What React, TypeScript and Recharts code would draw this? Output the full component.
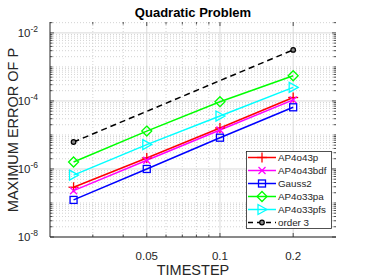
import React from "react";
import { LineChart, Line, XAxis, YAxis } from "recharts";

// time steps used in the convergence study
const timestep = [0.025, 0.05, 0.1, 0.2];

// maximum error of P for each method
const ap4o43p = [2.9e-7, 2.1e-6, 1.6e-5, 1.26e-4];
const ap4o43bdf = [2.3e-7, 1.8e-6, 1.4e-5, 1.07e-4];
const gauss2 = [1.23e-7, 1.0e-6, 8.3e-6, 6.5e-5];
const ap4o33pa = [1.6e-6, 1.3e-5, 9.5e-5, 5.5e-4];
const ap4o33pfs = [6.6e-7, 5.2e-6, 3.6e-5, 2.5e-4];
// reference slope, only drawn at the two end points
const order3 = [6.2e-6, null, null, 3.16e-3];

const xTicks = [0.05, 0.1, 0.2];
const yTicks = [1e-8, 1e-6, 1e-4, 1e-2];
const xMinor = [0.03, 0.04, 0.06, 0.07, 0.08, 0.09];
const yMinor: number[] = [];
for (let e = -8; e <= -3; e++) {
  for (let m = 1; m <= 9; m++) {
    const v = m * Math.pow(10, e);
    if (m === 1 && e % 2 === 0) continue; // major decade
    yMinor.push(v);
  }
}
yMinor.push(2e-2);

const X_DOMAIN = [0.02, 0.3];
const Y_DOMAIN = [1e-8, 0.0209];

// plot box (matches the chart margins / axis sizes below)
const PLOT = { left: 50, top: 22, right: 336, bottom: 237 };

const FONT = "'Liberation Sans', Arial, Helvetica, sans-serif";
const AXIS = "#262626";

type Mark = "plus" | "cross" | "square" | "diamond" | "tri" | "circle";

const series: {
  key: string;
  name: string;
  color: string;
  mark: Mark;
  dashed?: boolean;
  values: (number | null)[];
}[] = [
  { key: "ap4o43p", name: "AP4o43p", color: "#ff0000", mark: "plus", values: ap4o43p },
  { key: "ap4o43bdf", name: "AP4o43bdf", color: "#ff00ff", mark: "cross", values: ap4o43bdf },
  { key: "gauss2", name: "Gauss2", color: "#0000ff", mark: "square", values: gauss2 },
  { key: "ap4o33pa", name: "AP4o33pa", color: "#00ff00", mark: "diamond", values: ap4o33pa },
  { key: "ap4o33pfs", name: "AP4o33pfs", color: "#00ffff", mark: "tri", values: ap4o33pfs },
  { key: "order3", name: "order 3", color: "#000000", mark: "circle", dashed: true, values: order3 },
];

const chartData = timestep.map((t, i) => {
  const row: any = { t };
  series.forEach((s) => {
    row[s.key] = s.values[i];
  });
  return row;
});

// log position helpers for the background grid
const lx = (v: number) =>
  PLOT.left +
  ((Math.log10(v) - Math.log10(X_DOMAIN[0])) / (Math.log10(X_DOMAIN[1]) - Math.log10(X_DOMAIN[0]))) *
    (PLOT.right - PLOT.left);
const ly = (v: number) =>
  PLOT.bottom -
  ((Math.log10(v) - Math.log10(Y_DOMAIN[0])) / (Math.log10(Y_DOMAIN[1]) - Math.log10(Y_DOMAIN[0]))) *
    (PLOT.bottom - PLOT.top);

function Marker({ kind, cx, cy, color }: { kind: Mark; cx: number; cy: number; color: string }) {
  const sw = 1.3;
  switch (kind) {
    case "plus":
      return (
        <g stroke={color} strokeWidth={sw}>
          <line x1={cx - 5} y1={cy} x2={cx + 5} y2={cy} />
          <line x1={cx} y1={cy - 5} x2={cx} y2={cy + 5} />
        </g>
      );
    case "cross":
      return (
        <g stroke={color} strokeWidth={sw}>
          <line x1={cx - 3.5} y1={cy - 3.5} x2={cx + 3.5} y2={cy + 3.5} />
          <line x1={cx - 3.5} y1={cy + 3.5} x2={cx + 3.5} y2={cy - 3.5} />
        </g>
      );
    case "square":
      return <rect x={cx - 3.5} y={cy - 3.5} width={7} height={7} fill="none" stroke={color} strokeWidth={sw} />;
    case "diamond":
      return (
        <polygon
          points={`${cx},${cy - 5} ${cx + 5},${cy} ${cx},${cy + 5} ${cx - 5},${cy}`}
          fill="none"
          stroke={color}
          strokeWidth={sw}
        />
      );
    case "tri":
      return (
        <polygon
          points={`${cx + 5},${cy} ${cx - 4},${cy - 5} ${cx - 4},${cy + 5}`}
          fill="none"
          stroke={color}
          strokeWidth={sw}
        />
      );
    default:
      return <circle cx={cx} cy={cy} r={2.3} fill="#888" stroke={color} strokeWidth={1.2} />;
  }
}

const makeDot = (kind: Mark, color: string) => (props: any) => {
  const { cx, cy, value, index } = props;
  if (value == null || cx == null || cy == null) return <g key={`e-${index}`} />;
  return (
    <g key={`d-${index}`}>
      <Marker kind={kind} cx={cx} cy={cy} color={color} />
    </g>
  );
};

const YTick = (props: any) => {
  const { x, y, payload } = props;
  const exp = Math.round(Math.log10(payload.value));
  return (
    <text x={x - 4} y={y + 4} textAnchor="end" fill={AXIS} fontSize={11.5} fontFamily={FONT}>
      <tspan>10</tspan>
      <tspan dy={-5} fontSize={8.5}>
        {exp}
      </tspan>
    </text>
  );
};

const XTick = (props: any) => {
  const { x, y, payload } = props;
  return (
    <text x={x} y={y + 15} textAnchor="middle" fill={AXIS} fontSize={11.5} fontFamily={FONT}>
      {payload.value}
    </text>
  );
};

const LegendBox = () => {
  const rowH = 13;
  return (
    <svg width={86} height={78} style={{ display: "block" }}>
      <rect x={0.5} y={0.5} width={85} height={77} fill="#fff" stroke={AXIS} strokeWidth={0.8} />
      {series.map((s, i) => {
        const cy = 6.5 + rowH * i;
        return (
          <g key={s.key}>
            <line
              x1={2}
              y1={cy}
              x2={30}
              y2={cy}
              stroke={s.color}
              strokeWidth={1.5}
              strokeDasharray={s.dashed ? "5 4" : undefined}
            />
            <Marker kind={s.mark} cx={16} cy={cy} color={s.color} />
            <text x={32} y={cy + 3.5} fontSize={9.8} fontFamily={FONT} fill={AXIS}>
              {s.name}
            </text>
          </g>
        );
      })}
    </svg>
  );
};

const Grid = () => (
  <svg width={371} height={278} style={{ position: "absolute", left: 0, top: 0 }}>
    {xMinor.map((v) => (
      <line key={`xm${v}`} x1={lx(v)} x2={lx(v)} y1={PLOT.top} y2={PLOT.bottom} stroke="#c8c8c8" strokeWidth={0.8} strokeDasharray="1 2" />
    ))}
    {yMinor.map((v) => (
      <line key={`ym${v}`} x1={PLOT.left} x2={PLOT.right} y1={ly(v)} y2={ly(v)} stroke="#c8c8c8" strokeWidth={0.8} strokeDasharray="1 2" />
    ))}
    {xTicks.map((v) => (
      <line key={`xM${v}`} x1={lx(v)} x2={lx(v)} y1={PLOT.top} y2={PLOT.bottom} stroke="#dadada" />
    ))}
    {yTicks.map((v) => (
      <line key={`yM${v}`} x1={PLOT.left} x2={PLOT.right} y1={ly(v)} y2={ly(v)} stroke="#dadada" />
    ))}
  </svg>
);

const TickMarks = () => (
  <svg width={371} height={278} style={{ position: "absolute", left: 0, top: 0, pointerEvents: "none" }}>
    <g stroke={AXIS} strokeWidth={0.8}>
      {[...xMinor, ...xTicks].map((v) => {
        const len = xTicks.includes(v) ? 4 : 2.5;
        return (
          <g key={`xt${v}`}>
            <line x1={lx(v)} x2={lx(v)} y1={PLOT.bottom} y2={PLOT.bottom - len} />
            <line x1={lx(v)} x2={lx(v)} y1={PLOT.top} y2={PLOT.top + len} />
          </g>
        );
      })}
      {[...yMinor, ...yTicks].map((v) => {
        const len = yTicks.includes(v) ? 4 : 2.5;
        return (
          <g key={`yt${v}`}>
            <line x1={PLOT.left} x2={PLOT.left + len} y1={ly(v)} y2={ly(v)} />
            <line x1={PLOT.right} x2={PLOT.right - len} y1={ly(v)} y2={ly(v)} />
          </g>
        );
      })}
    </g>
  </svg>
);

export default function App() {
  return (
    <div style={{ position: "absolute", left: 0, top: 0, width: 371, height: 278, background: "#fff" }}>
      <Grid />
      <div style={{ position: "absolute", left: 0, top: 0 }}>
        <LineChart width={371} height={278} data={chartData} margin={{ top: 22, right: 35, bottom: 0, left: 0 }}>
          <XAxis
            dataKey="t"
            type="number"
            scale="log"
            domain={X_DOMAIN}
            ticks={xTicks}
            interval={0}
            allowDataOverflow
            height={41}
            stroke={AXIS}
            tickLine={false}
            tick={<XTick />}
          />
          <XAxis
            xAxisId="top"
            orientation="top"
            dataKey="t"
            type="number"
            scale="log"
            domain={X_DOMAIN}
            ticks={xTicks}
            allowDataOverflow
            height={0}
            stroke={AXIS}
            tickLine={false}
            tick={false}
          />
          <YAxis
            type="number"
            scale="log"
            domain={Y_DOMAIN}
            ticks={yTicks}
            interval={0}
            allowDataOverflow
            width={50}
            stroke={AXIS}
            tickLine={false}
            tick={<YTick />}
          />
          <YAxis
            yAxisId="right"
            orientation="right"
            type="number"
            scale="log"
            domain={Y_DOMAIN}
            ticks={yTicks}
            allowDataOverflow
            width={0}
            stroke={AXIS}
            tickLine={false}
            tick={false}
          />
          {series.map((s) => (
            <Line
              key={s.key}
              dataKey={s.key}
              name={s.name}
              stroke={s.color}
              strokeWidth={1.5}
              strokeDasharray={s.dashed ? "6 4" : undefined}
              connectNulls
              dot={makeDot(s.mark, s.color)}
              activeDot={false}
              isAnimationActive={false}
            />
          ))}
        </LineChart>
      </div>
      <TickMarks />
      <div style={{ position: "absolute", left: 246, top: 151 }}>
        <LegendBox />
      </div>
      <svg
        width={371}
        height={278}
        style={{ position: "absolute", left: 0, top: 0, pointerEvents: "none" }}
      >
        <text x={193} y={17} textAnchor="middle" fontSize={13} fontWeight="bold" fontFamily={FONT} fill="#000">
          Quadratic Problem
        </text>
        <text x={193} y={275} textAnchor="middle" fontSize={14.5} fontFamily={FONT} fill={AXIS}>
          TIMESTEP
        </text>
        <text
          x={0}
          y={0}
          transform="translate(18,130) rotate(-90)"
          textAnchor="middle"
          fontSize={14.5}
          fontFamily={FONT}
          fill={AXIS}
        >
          MAXIMUM ERROR OF P
        </text>
      </svg>
    </div>
  );
}
